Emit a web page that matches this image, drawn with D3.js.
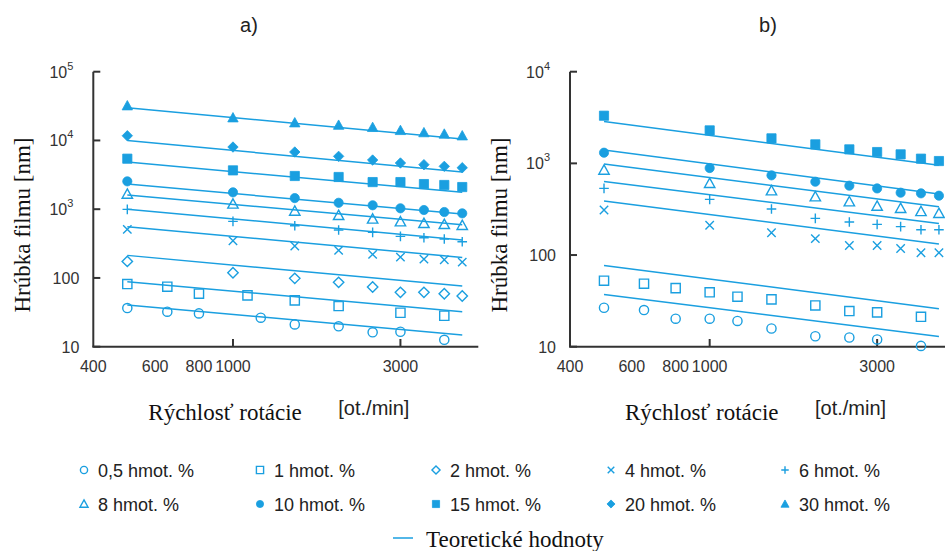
<!DOCTYPE html>
<html><head><meta charset="utf-8">
<script src="https://cdn.jsdelivr.net/npm/d3@7"></script>
<style>body{margin:0;background:#fff}</style>
</head><body>
<svg id="c" width="945" height="551"></svg>
<script>
// ---------- DATA ----------
const speeds = [500,1000,1500,2000,2500,3000,3500,4000,4500];
const speedsA05 = [500,650,800,1200,1500,2000,2500,3000,4000];
const speedsA1  = [500,650,800,1100,1500,2000,3000,4000];
const speedsBLow = [500,650,800,1000,1200,1500,2000,2500,3000,4000];
const theorySpeeds = [500,4500];

// panel a measured values [nm]
const a05 = [36.5,32.3,30.5,26.4,21.1,19.8,16.2,16.5,12.6];
const a1  = [81.5,74.6,59,55.8,47.2,39,31.2,28.2];
const a2  = [174,119,98.6,86.3,73.8,61.7,61.7,59,54.6];
const a4  = [509,348,291,252,220,201,188,184,170];
const a6  = [995,665,575,498,460,403,385,368,337];
const a8  = [1660,1190,940,813,720,658,622,601,582];
const a10 = [2540,1760,1450,1240,1140,1030,973,910,870];
const a15 = [5430,3670,3040,2940,2480,2480,2320,2250,2100];
const a20 = [11700,8020,6790,5870,5190,4700,4440,4200,4010];
const a30 = [32000,21400,18100,16700,15500,14000,13000,12400,11700];
// panel a theoretical values at 500 and 4500 ot./min
const aT05 = [40.4,14.8], aT1 = [88.2,32.3], aT2 = [213,76.3], aT4 = [556,199], aT6 = [1000,356];
const aT8 = [1610,595], aT10 = [2320,851], aT15 = [4850,1760], aT20 = [10000,3470], aT30 = [29900,10500];

// panel b measured values [nm]
const b05 = [26.6,25.1,20.2,20.2,19.1,15.8,13,12.6,12.0,10.2];
const b1  = [52.5,48.7,43.6,39.2,35.1,32.8,28.2,24.5,23.7,21.2];
const b4  = [310,211,175,151,127,127,118,106,106];
const b6  = [534,405,318,251,229,216,204,189,189];
const b8  = [846,605,503,433,382,342,323,299,285];
const b10 = [1307,889,740,631,571,533,479,471,444];
const b15 = [3310,2290,1874,1612,1421,1329,1254,1125,1060];
const bT05 = [37.2,12.9], bT1 = [77.1,26], bT4 = [388,132], bT6 = [636,221];
const bT8 = [983,337], bT10 = [1397,463], bT15 = [2870,951];

const xTickVals = [400,600,800,1000,3000];
const xTickMarks = [1000,3000];
const yTicksA = [10,100,1000,10000,100000];
const yTickLabelsA = ["10","100","10^3","10^4","10^5"];
const yTicksB = [10,100,1000,10000];
const yTickLabelsB = ["10","100","10^3","10^4"];

const legendLabels = ["0,5 hmot. %","1 hmot. %","2 hmot. %","4 hmot. %","6 hmot. %",
                      "8 hmot. %","10 hmot. %","15 hmot. %","20 hmot. %","30 hmot. %"];
const legendSymbols = ["circleO","squareO","diamondO","cross","plus","triangleO","circleF","squareF","diamondF","triangleF"];
const theoryLabel = "Teoretické hodnoty";
const titles = ["a)","b)"];
const yLabel = "Hrúbka filmu [nm]";
const xLabel = "Rýchlosť rotácie";
const xUnit = "[ot./min]";

// ---------- DRAWING ----------
const BLUE = "#1a9fe0";
const AXIS = "#333";
const SANS = "'Liberation Sans', Arial, sans-serif";
const SERIF = "'Liberation Serif', 'Times New Roman', serif";
const svg = d3.select("#c");

function symPath(type, k) {
  k = k || 1;
  const r = 4.6*k;
  switch(type) {
    case "circleO": case "circleF":
      return `M${r},0A${r},${r} 0 1,1 ${-r},0A${r},${r} 0 1,1 ${r},0Z`;
    case "squareO": case "squareF":
      return `M${-r},${-r}H${r}V${r}H${-r}Z`;
    case "diamondO": case "diamondF": {
      const d = 5.2*k;
      return `M0,${-d}L${d},0L0,${d}L${-d},0Z`;
    }
    case "triangleO": case "triangleF": {
      const h = 5.2*k;
      return `M0,${-h}L${h},${h*0.8}L${-h},${h*0.8}Z`;
    }
    case "cross": { const c = 4.2*k; return `M${-c},${-c}L${c},${c}M${-c},${c}L${c},${-c}`; }
    case "plus": { const c = 4.8*k; return `M${-c},0H${c}M0,${-c}V${c}`; }
  }
}
function drawSym(g, type, x, y, k) {
  const filled = type.endsWith("F");
  g.append("path").attr("d", symPath(type, k))
    .attr("transform", `translate(${x},${y})`)
    .attr("fill", filled ? BLUE : "none")
    .attr("stroke", BLUE)
    .attr("stroke-width", filled ? 0.8 : 1.4);
}

function panel(opts) {
  const g = svg.append("g");
  const x = d3.scaleLog().domain([400,5000]).range([opts.x0, opts.x0 + 385]);
  const y = d3.scaleLog().domain(opts.yDomain).range([346.7, 71.7]);

  // axes
  g.append("line").attr("x1", opts.x0).attr("x2", opts.x0).attr("y1", y(opts.yDomain[1])).attr("y2", 346.7)
    .attr("stroke", AXIS).attr("stroke-width", 2);
  g.append("line").attr("x1", opts.x0 - 1).attr("x2", x(5000)).attr("y1", 346.7).attr("y2", 346.7)
    .attr("stroke", AXIS).attr("stroke-width", 2);
  opts.yTicks.forEach((v, i) => {
    g.append("line").attr("x1", opts.x0).attr("x2", opts.x0 + 7).attr("y1", y(v)).attr("y2", y(v))
      .attr("stroke", AXIS).attr("stroke-width", 2);
    const lab = opts.yLabels[i].split("^");
    const t = g.append("text").attr("x", opts.x0 - 14).attr("y", y(v) + 6)
      .attr("text-anchor", "end").attr("font-family", SANS).attr("font-size", 16).attr("fill", AXIS);
    if (lab.length > 1) {
      t.attr("x", opts.x0 - 13 - 7);
      t.append("tspan").text(lab[0]);
      t.append("tspan").attr("dy", -8).attr("font-size", 11).text(lab[1]);
    } else t.text(lab[0]);
  });
  xTickMarks.forEach(v => {
    g.append("line").attr("x1", x(v)).attr("x2", x(v)).attr("y1", 346.7).attr("y2", 339)
      .attr("stroke", AXIS).attr("stroke-width", 2);
  });
  xTickVals.forEach(v => {
    g.append("text").attr("x", x(v)).attr("y", 372).attr("text-anchor", "middle")
      .attr("font-family", SANS).attr("font-size", 16).attr("fill", AXIS).text(v);
  });

  // titles & labels
  g.append("text").attr("x", opts.titleX).attr("y", 32).attr("text-anchor", "middle")
    .attr("font-family", SANS).attr("font-size", 20).attr("fill", "#222").text(opts.title);
  g.append("text").attr("transform", `translate(${opts.x0 - 63},225) rotate(-90)`).attr("text-anchor", "middle")
    .attr("font-family", SERIF).attr("font-size", 23).attr("fill", "#111").text(yLabel);
  g.append("text").attr("x", opts.x0 + 55).attr("y", 420)
    .attr("font-family", SERIF).attr("font-size", 23).attr("fill", "#111").text(xLabel);
  g.append("text").attr("x", opts.x0 + 245).attr("y", 415)
    .attr("font-family", SANS).attr("font-size", 20).attr("fill", "#222").text(xUnit);

  // theory lines
  const line = d3.line().x(d => x(d[0])).y(d => y(d[1]));
  opts.series.forEach(s => {
    g.append("path").attr("d", line(theorySpeeds.map((sp, i) => [sp, s.theory[i]])))
      .attr("fill", "none").attr("stroke", BLUE).attr("stroke-width", 1.5);
  });
  // markers
  opts.series.forEach(s => {
    s.vals.forEach((v, i) => drawSym(g, s.sym, x(s.xs[i]), y(v), 1));
  });
}

panel({
  x0: 93.3, yDomain: [10,100000], yTicks: yTicksA, yLabels: yTickLabelsA, title: titles[0], titleX: 249,
  series: [
    {sym:"circleO", xs:speedsA05, vals:a05, theory:aT05},
    {sym:"squareO", xs:speedsA1, vals:a1, theory:aT1},
    {sym:"diamondO", xs:speeds, vals:a2, theory:aT2},
    {sym:"cross", xs:speeds, vals:a4, theory:aT4},
    {sym:"plus", xs:speeds, vals:a6, theory:aT6},
    {sym:"triangleO", xs:speeds, vals:a8, theory:aT8},
    {sym:"circleF", xs:speeds, vals:a10, theory:aT10},
    {sym:"squareF", xs:speeds, vals:a15, theory:aT15},
    {sym:"diamondF", xs:speeds, vals:a20, theory:aT20},
    {sym:"triangleF", xs:speeds, vals:a30, theory:aT30}
  ]
});
panel({
  x0: 570, yDomain: [10,10000], yTicks: yTicksB, yLabels: yTickLabelsB, title: titles[1], titleX: 768,
  series: [
    {sym:"circleO", xs:speedsBLow, vals:b05, theory:bT05},
    {sym:"squareO", xs:speedsBLow, vals:b1, theory:bT1},
    {sym:"cross", xs:speeds, vals:b4, theory:bT4},
    {sym:"plus", xs:speeds, vals:b6, theory:bT6},
    {sym:"triangleO", xs:speeds, vals:b8, theory:bT8},
    {sym:"circleF", xs:speeds, vals:b10, theory:bT10},
    {sym:"squareF", xs:speeds, vals:b15, theory:bT15}
  ]
});

// legend
const lg = svg.append("g");
const colX = [84, 260, 436, 611, 785];
const rowY = [470, 504];
legendLabels.forEach((lab, i) => {
  const cx = colX[i % 5], cy = rowY[Math.floor(i / 5)];
  drawSym(lg, legendSymbols[i], cx, cy, 0.78);
  lg.append("text").attr("x", cx + 14).attr("y", cy + 6.5)
    .attr("font-family", SANS).attr("font-size", 18).attr("fill", "#222").text(lab);
});
lg.append("line").attr("x1", 393).attr("x2", 413).attr("y1", 538).attr("y2", 538)
  .attr("stroke", BLUE).attr("stroke-width", 1.5);
lg.append("text").attr("x", 426).attr("y", 547).attr("font-family", SERIF).attr("font-size", 23)
  .attr("fill", "#111").text(theoryLabel);
</script>
</body></html>
